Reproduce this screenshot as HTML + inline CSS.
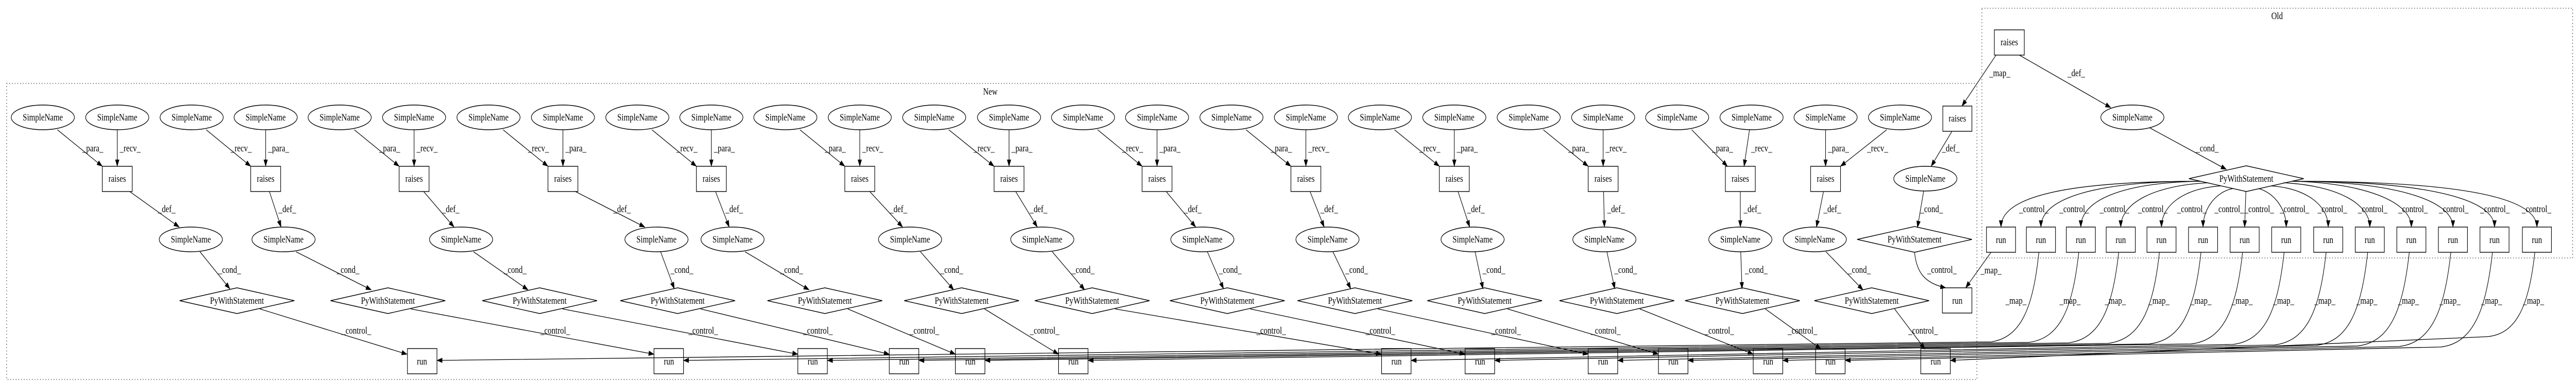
<!DOCTYPE html>
<html><head><meta charset="utf-8"><style>
html,body{margin:0;padding:0;background:#fff;width:100%;height:100%;overflow:hidden;}
svg{display:block;width:100vw;height:100vh;}
text{font-family:"Liberation Serif",serif;font-size:18.5px;fill:#000;}
.n{fill:none;stroke:#000;stroke-width:1.4;}
.e{fill:none;stroke:#000;stroke-width:1.3;marker-end:url(#a);}
.c{fill:none;stroke:#000;stroke-width:1.3;stroke-dasharray:1.5,5;}
</style></head><body>
<svg viewBox="0 0 6196 740" preserveAspectRatio="none" xmlns="http://www.w3.org/2000/svg">
<defs><marker id="a" markerWidth="14" markerHeight="10" refX="13" refY="5" orient="auto" markerUnits="userSpaceOnUse"><path d="M0,0 L14,5 L0,10 z" fill="#000"/></marker></defs>
<rect class="c" x="16" y="162" width="4739" height="575"/>
<text x="2382" y="184" text-anchor="middle">New</text>
<rect class="c" x="4767" y="16" width="1421" height="485"/>
<text x="5477" y="37" text-anchor="middle">Old</text>

<g class="n">
<ellipse cx="103" cy="228" rx="76" ry="24"/><ellipse cx="282" cy="228" rx="76" ry="24"/>
<ellipse cx="461" cy="228" rx="76" ry="24"/><ellipse cx="639" cy="228" rx="76" ry="24"/>
<ellipse cx="817" cy="228" rx="76" ry="24"/><ellipse cx="996" cy="228" rx="76" ry="24"/>
<ellipse cx="1175" cy="228" rx="76" ry="24"/><ellipse cx="1354" cy="228" rx="76" ry="24"/>
<ellipse cx="1533" cy="228" rx="76" ry="24"/><ellipse cx="1711" cy="228" rx="76" ry="24"/>
<ellipse cx="1889" cy="228" rx="76" ry="24"/><ellipse cx="2068" cy="228" rx="76" ry="24"/>
<ellipse cx="2247" cy="228" rx="76" ry="24"/><ellipse cx="2427" cy="228" rx="76" ry="24"/>
<ellipse cx="2605" cy="228" rx="76" ry="24"/><ellipse cx="2783" cy="228" rx="76" ry="24"/>
<ellipse cx="2962" cy="228" rx="76" ry="24"/><ellipse cx="3141" cy="228" rx="76" ry="24"/>
<ellipse cx="3319" cy="228" rx="76" ry="24"/><ellipse cx="3498" cy="228" rx="76" ry="24"/>
<ellipse cx="3677" cy="228" rx="76" ry="24"/><ellipse cx="3856" cy="228" rx="76" ry="24"/>
<ellipse cx="4034" cy="228" rx="76" ry="24"/><ellipse cx="4213" cy="228" rx="76" ry="24"/>
<ellipse cx="4391" cy="228" rx="76" ry="24"/><ellipse cx="4570" cy="228" rx="76" ry="24"/>
<ellipse cx="459" cy="465" rx="76" ry="24"/><ellipse cx="682" cy="465" rx="76" ry="24"/>
<ellipse cx="1109" cy="465" rx="76" ry="24"/><ellipse cx="1579" cy="465" rx="76" ry="24"/>
<ellipse cx="1762" cy="465" rx="76" ry="24"/><ellipse cx="2189" cy="465" rx="76" ry="24"/>
<ellipse cx="2507" cy="465" rx="76" ry="24"/><ellipse cx="2892" cy="465" rx="76" ry="24"/>
<ellipse cx="3193" cy="465" rx="76" ry="24"/><ellipse cx="3542" cy="465" rx="76" ry="24"/>
<ellipse cx="3859" cy="465" rx="76" ry="24"/><ellipse cx="4186" cy="465" rx="76" ry="24"/>
<ellipse cx="4365" cy="465" rx="76" ry="24"/>
<ellipse cx="4631" cy="347" rx="76" ry="24"/>
<ellipse cx="5129" cy="228" rx="76" ry="24"/>
</g>
<g text-anchor="middle">
<text x="103" y="234">SimpleName</text><text x="282" y="234">SimpleName</text>
<text x="461" y="234">SimpleName</text><text x="639" y="234">SimpleName</text>
<text x="817" y="234">SimpleName</text><text x="996" y="234">SimpleName</text>
<text x="1175" y="234">SimpleName</text><text x="1354" y="234">SimpleName</text>
<text x="1533" y="234">SimpleName</text><text x="1711" y="234">SimpleName</text>
<text x="1889" y="234">SimpleName</text><text x="2068" y="234">SimpleName</text>
<text x="2247" y="234">SimpleName</text><text x="2427" y="234">SimpleName</text>
<text x="2605" y="234">SimpleName</text><text x="2783" y="234">SimpleName</text>
<text x="2962" y="234">SimpleName</text><text x="3141" y="234">SimpleName</text>
<text x="3319" y="234">SimpleName</text><text x="3498" y="234">SimpleName</text>
<text x="3677" y="234">SimpleName</text><text x="3856" y="234">SimpleName</text>
<text x="4034" y="234">SimpleName</text><text x="4213" y="234">SimpleName</text>
<text x="4391" y="234">SimpleName</text><text x="4570" y="234">SimpleName</text>
<text x="459" y="471">SimpleName</text><text x="682" y="471">SimpleName</text>
<text x="1109" y="471">SimpleName</text><text x="1579" y="471">SimpleName</text>
<text x="1762" y="471">SimpleName</text><text x="2189" y="471">SimpleName</text>
<text x="2507" y="471">SimpleName</text><text x="2892" y="471">SimpleName</text>
<text x="3193" y="471">SimpleName</text><text x="3542" y="471">SimpleName</text>
<text x="3859" y="471">SimpleName</text><text x="4186" y="471">SimpleName</text>
<text x="4365" y="471">SimpleName</text>
<text x="4631" y="353">SimpleName</text>
<text x="5129" y="234">SimpleName</text>
</g>

<g class="n">
<rect x="246" y="323" width="72" height="49"/><rect x="603" y="323" width="72" height="49"/>
<rect x="960" y="323" width="72" height="49"/><rect x="1318" y="323" width="72" height="49"/>
<rect x="1675" y="323" width="72" height="49"/><rect x="2032" y="323" width="72" height="49"/>
<rect x="2391" y="323" width="72" height="49"/><rect x="2747" y="323" width="72" height="49"/>
<rect x="3105" y="323" width="72" height="49"/><rect x="3462" y="323" width="72" height="49"/>
<rect x="3820" y="323" width="72" height="49"/><rect x="4150" y="323" width="72" height="49"/>
<rect x="4355" y="323" width="72" height="49"/>
<rect x="4673" y="206" width="70" height="49"/>
<rect x="4797" y="58" width="72" height="49"/>
</g>
<g text-anchor="middle">
<text x="282" y="353">raises</text><text x="639" y="353">raises</text><text x="996" y="353">raises</text>
<text x="1354" y="353">raises</text><text x="1711" y="353">raises</text><text x="2068" y="353">raises</text>
<text x="2427" y="353">raises</text><text x="2783" y="353">raises</text><text x="3141" y="353">raises</text>
<text x="3498" y="353">raises</text><text x="3856" y="353">raises</text><text x="4186" y="353">raises</text>
<text x="4391" y="353">raises</text><text x="4708" y="236">raises</text><text x="4833" y="88">raises</text>
</g>

<g class="n">
<polygon points="432,584 570,559 708,584 570,609"/>
<polygon points="795,584 933,559 1071,584 933,609"/>
<polygon points="1160,584 1298,559 1436,584 1298,609"/>
<polygon points="1492,584 1630,559 1768,584 1630,609"/>
<polygon points="1846,584 1984,559 2122,584 1984,609"/>
<polygon points="2175,584 2313,559 2451,584 2313,609"/>
<polygon points="2489,584 2627,559 2765,584 2627,609"/>
<polygon points="2814,584 2952,559 3090,584 2952,609"/>
<polygon points="3121,584 3259,559 3397,584 3259,609"/>
<polygon points="3433,584 3571,559 3709,584 3571,609"/>
<polygon points="3751,584 3889,559 4027,584 3889,609"/>
<polygon points="4053,584 4191,559 4329,584 4191,609"/>
<polygon points="4364,584 4502,559 4640,584 4502,609"/>
<polygon points="4467,465 4605,440 4743,465 4605,490"/>
<polygon points="5265,347 5403,322 5541,347 5403,372"/>
</g>
<g text-anchor="middle">
<text x="570" y="590">PyWithStatement</text><text x="933" y="590">PyWithStatement</text>
<text x="1298" y="590">PyWithStatement</text><text x="1630" y="590">PyWithStatement</text>
<text x="1984" y="590">PyWithStatement</text><text x="2313" y="590">PyWithStatement</text>
<text x="2627" y="590">PyWithStatement</text><text x="2952" y="590">PyWithStatement</text>
<text x="3259" y="590">PyWithStatement</text><text x="3571" y="590">PyWithStatement</text>
<text x="3889" y="590">PyWithStatement</text><text x="4191" y="590">PyWithStatement</text>
<text x="4502" y="590">PyWithStatement</text><text x="4605" y="471">PyWithStatement</text>
<text x="5403" y="353">PyWithStatement</text>
</g>

<g class="n">
<rect x="980" y="677" width="71" height="49"/><rect x="1573" y="677" width="71" height="49"/>
<rect x="1919" y="677" width="71" height="49"/><rect x="2139" y="677" width="71" height="49"/>
<rect x="2298" y="677" width="71" height="49"/><rect x="2546" y="677" width="71" height="49"/>
<rect x="3323" y="677" width="71" height="49"/><rect x="3524" y="677" width="71" height="49"/>
<rect x="3820" y="677" width="71" height="49"/><rect x="3989" y="677" width="71" height="49"/>
<rect x="4217" y="677" width="71" height="49"/><rect x="4367" y="677" width="71" height="49"/>
<rect x="4620" y="677" width="71" height="49"/>
<rect x="4672" y="559" width="71" height="49"/>
<rect x="4778" y="441" width="70" height="49"/><rect x="4874" y="441" width="70" height="49"/>
<rect x="4970" y="441" width="70" height="49"/><rect x="5066" y="441" width="70" height="49"/>
<rect x="5164" y="441" width="70" height="49"/><rect x="5264" y="441" width="70" height="49"/>
<rect x="5364" y="441" width="70" height="49"/><rect x="5464" y="441" width="70" height="49"/>
<rect x="5565" y="441" width="70" height="49"/><rect x="5665" y="441" width="70" height="49"/>
<rect x="5765" y="441" width="70" height="49"/><rect x="5865" y="441" width="70" height="49"/>
<rect x="5965" y="441" width="70" height="49"/><rect x="6067" y="441" width="70" height="49"/>
</g>
<g text-anchor="middle">
<text x="1015" y="708">run</text><text x="1609" y="708">run</text><text x="1955" y="708">run</text>
<text x="2175" y="708">run</text><text x="2334" y="708">run</text><text x="2582" y="708">run</text>
<text x="3359" y="708">run</text><text x="3560" y="708">run</text><text x="3856" y="708">run</text>
<text x="4025" y="708">run</text><text x="4253" y="708">run</text><text x="4403" y="708">run</text>
<text x="4656" y="708">run</text><text x="4708" y="590">run</text>
<text x="4813" y="472">run</text><text x="4909" y="472">run</text><text x="5005" y="472">run</text>
<text x="5101" y="472">run</text><text x="5199" y="472">run</text><text x="5299" y="472">run</text>
<text x="5399" y="472">run</text><text x="5499" y="472">run</text><text x="5600" y="472">run</text>
<text x="5700" y="472">run</text><text x="5800" y="472">run</text><text x="5900" y="472">run</text>
<text x="6000" y="472">run</text><text x="6102" y="472">run</text>
</g>

<g class="e">
<path d="M138,252L246,323"/><path d="M282,252L282,323"/>
<path d="M496,252L603,323"/><path d="M639,252L639,323"/>
<path d="M852,252L960,323"/><path d="M996,252L996,323"/>
<path d="M1210,252L1318,323"/><path d="M1354,252L1354,323"/>
<path d="M1568,252L1675,323"/><path d="M1711,252L1711,323"/>
<path d="M1924,252L2032,323"/><path d="M2068,252L2068,323"/>
<path d="M2282,252L2391,323"/><path d="M2427,252L2427,323"/>
<path d="M2640,252L2747,323"/><path d="M2783,252L2783,323"/>
<path d="M2997,252L3105,323"/><path d="M3141,252L3141,323"/>
<path d="M3354,252L3462,323"/><path d="M3498,252L3498,323"/>
<path d="M3712,252L3820,323"/><path d="M3856,252L3856,323"/>
<path d="M4069,252L4155,323"/><path d="M4208,252L4195,323"/>
<path d="M4391,252L4391,323"/><path d="M4538,252L4427,323"/>
</g>
<g>
<text x="198" y="294">_para_</text><text x="288" y="294">_recv_</text>
<text x="555" y="294">_recv_</text><text x="645" y="294">_para_</text>
<text x="912" y="294">_para_</text><text x="1002" y="294">_recv_</text>
<text x="1270" y="294">_recv_</text><text x="1360" y="294">_para_</text>
<text x="1627" y="294">_recv_</text><text x="1717" y="294">_para_</text>
<text x="1984" y="294">_para_</text><text x="2074" y="294">_recv_</text>
<text x="2342" y="294">_recv_</text><text x="2433" y="294">_para_</text>
<text x="2699" y="294">_recv_</text><text x="2789" y="294">_para_</text>
<text x="3057" y="294">_para_</text><text x="3147" y="294">_recv_</text>
<text x="3414" y="294">_recv_</text><text x="3504" y="294">_para_</text>
<text x="3772" y="294">_para_</text><text x="3862" y="294">_recv_</text>
<text x="4118" y="294">_para_</text><text x="4212" y="294">_recv_</text>
<text x="4397" y="294">_para_</text><text x="4491" y="294">_recv_</text>
</g>

<g class="e">
<path d="M312,372L431,441"/><path d="M648,372L676,441"/><path d="M1019,372L1092,441"/>
<path d="M1384,372L1551,441"/><path d="M1721,372L1754,441"/><path d="M2092,372L2171,441"/>
<path d="M2443,372L2495,441"/><path d="M2805,372L2876,441"/><path d="M3151,372L3185,441"/>
<path d="M3507,372L3535,441"/><path d="M3857,372L3859,441"/><path d="M4186,372L4186,441"/>
<path d="M4386,372L4369,441"/>
</g>
<g>
<text x="380" y="412">_def_</text><text x="670" y="412">_def_</text><text x="1063" y="412">_def_</text>
<text x="1475" y="412">_def_</text><text x="1745" y="412">_def_</text><text x="2140" y="412">_def_</text>
<text x="2477" y="412">_def_</text><text x="2848" y="412">_def_</text><text x="3176" y="412">_def_</text>
<text x="3529" y="412">_def_</text><text x="3866" y="412">_def_</text><text x="4194" y="412">_def_</text>
<text x="4386" y="412">_def_</text>
</g>

<g class="e">
<path d="M481,489L553,561"/><path d="M712,489L893,563"/><path d="M1139,489L1270,563"/>
<path d="M1589,489L1622,561"/><path d="M1792,489L1946,563"/><path d="M2214,489L2294,563"/>
<path d="M2531,489L2609,563"/><path d="M2904,489L2943,561"/><path d="M3206,489L3249,561"/>
<path d="M3548,489L3567,561"/><path d="M3865,489L3884,561"/><path d="M4187,489L4190,561"/>
<path d="M4392,489L4481,563"/>
</g>
<g>
<text x="525" y="530">_cond_</text><text x="810" y="530">_cond_</text><text x="1212" y="530">_cond_</text>
<text x="1613" y="530">_cond_</text><text x="1877" y="530">_cond_</text><text x="2262" y="530">_cond_</text>
<text x="2578" y="530">_cond_</text><text x="2932" y="530">_cond_</text><text x="3236" y="530">_cond_</text>
<text x="3566" y="530">_cond_</text><text x="3883" y="530">_cond_</text><text x="4197" y="530">_cond_</text>
<text x="4445" y="530">_cond_</text>
</g>

<g class="e">
<path d="M625,600L979,688"/><path d="M988,600L1573,688"/><path d="M1353,600L1919,688"/>
<path d="M1685,600L2139,688"/><path d="M2039,600L2298,688"/><path d="M2368,600L2546,688"/>
<path d="M2682,600L3323,688"/><path d="M3007,600L3524,688"/><path d="M3314,600L3820,688"/>
<path d="M3626,600L3989,688"/><path d="M3944,600L4217,688"/><path d="M4246,600L4380,678"/>
<path d="M4557,600L4630,678"/>
</g>
<g>
<text x="822" y="648">_control_</text><text x="1300" y="648">_control_</text><text x="1656" y="648">_control_</text>
<text x="1932" y="648">_control_</text><text x="2188" y="648">_control_</text><text x="2477" y="648">_control_</text>
<text x="3022" y="648">_control_</text><text x="3285" y="648">_control_</text><text x="3587" y="648">_control_</text>
<text x="3827" y="648">_control_</text><text x="4100" y="648">_control_</text><text x="4300" y="648">_control_</text>
<text x="4590" y="648">_control_</text>
</g>

<g class="e">
<path d="M4801,107L4719,206"/>
<path d="M4857,107L5077,209"/>
<path d="M4695,255L4645,323"/>
<path d="M5170,248L5355,329"/>
<path d="M4627,371L4612,442"/>
<path d="M4605,490C4610,530 4630,550 4680,559"/>
<path d="M4789,490L4728,559"/>
</g>
<g>
<text x="4810" y="148" text-anchor="middle">_map_</text>
<text x="4994" y="148" text-anchor="middle">_def_</text>
<text x="4692" y="294" text-anchor="middle">_def_</text>
<text x="5309" y="294" text-anchor="middle">_cond_</text>
<text x="4646" y="412" text-anchor="middle">_cond_</text>
<text x="4671" y="530" text-anchor="middle">_control_</text>
<text x="4789" y="531" text-anchor="middle">_map_</text>
</g>

<g class="e">
<path d="M5293,352C4980,352 4813,380 4813,441"/>
<path d="M5293,352C5040,352 4909,385 4909,441"/>
<path d="M5293,352C5100,355 5005,390 5005,441"/>
<path d="M5312,355C5180,360 5101,395 5101,441"/>
<path d="M5342,361C5250,366 5199,400 5199,441"/>
<path d="M5372,366C5330,372 5299,405 5299,441"/>
<path d="M5402,371L5399,441"/>
<path d="M5432,366C5470,375 5499,405 5499,441"/>
<path d="M5462,361C5550,366 5600,400 5600,441"/>
<path d="M5492,355C5620,360 5700,395 5700,441"/>
<path d="M5513,352C5680,355 5800,390 5800,441"/>
<path d="M5513,352C5740,352 5900,385 5900,441"/>
<path d="M5513,352C5800,352 6000,380 6000,441"/>
<path d="M5513,352C5860,352 6102,375 6102,441"/>
</g>
<g text-anchor="middle">
<text x="4892" y="412">_control_</text><text x="4989" y="412">_control_</text><text x="5086" y="412">_control_</text>
<text x="5178" y="412">_control_</text><text x="5272" y="412">_control_</text><text x="5362" y="412">_control_</text>
<text x="5434" y="412">_control_</text><text x="5519" y="412">_control_</text><text x="5610" y="412">_control_</text>
<text x="5707" y="412">_control_</text><text x="5804" y="412">_control_</text><text x="5902" y="412">_control_</text>
<text x="6001" y="412">_control_</text><text x="6101" y="412">_control_</text>
</g>

<g class="e">
<path d="M4904,490C4890,600 4860,655 4790,664L1051,700"/>
<path d="M5000,490C4985,600 4955,657 4880,665L1644,700"/>
<path d="M5096,490C5081,600 5051,658 4975,666L1990,700"/>
<path d="M5194,490C5179,600 5149,659 5070,667L2210,700"/>
<path d="M5294,490C5279,600 5249,660 5170,668L2369,700"/>
<path d="M5394,490C5379,600 5349,661 5270,668L2617,700"/>
<path d="M5494,490C5479,600 5449,662 5370,669L3394,700"/>
<path d="M5595,490C5580,600 5550,663 5470,670L3595,700"/>
<path d="M5695,490C5680,600 5650,664 5570,671L3891,700"/>
<path d="M5795,490C5780,600 5750,665 5670,672L4060,700"/>
<path d="M5895,490C5880,600 5850,666 5770,673L4288,700"/>
<path d="M5995,490C5980,600 5950,667 5870,674L4438,700"/>
<path d="M6097,490C6082,600 6050,650 5980,654L4691,700"/>
</g>
<g text-anchor="middle">
<text x="4849" y="590">_map_</text><text x="4979" y="590">_map_</text><text x="5088" y="590">_map_</text>
<text x="5193" y="590">_map_</text><text x="5294" y="590">_map_</text><text x="5393" y="590">_map_</text>
<text x="5493" y="590">_map_</text><text x="5592" y="590">_map_</text><text x="5693" y="590">_map_</text>
<text x="5793" y="590">_map_</text><text x="5893" y="590">_map_</text><text x="5993" y="590">_map_</text>
<text x="6094" y="590">_map_</text>
</g>
</svg>
</body></html>
